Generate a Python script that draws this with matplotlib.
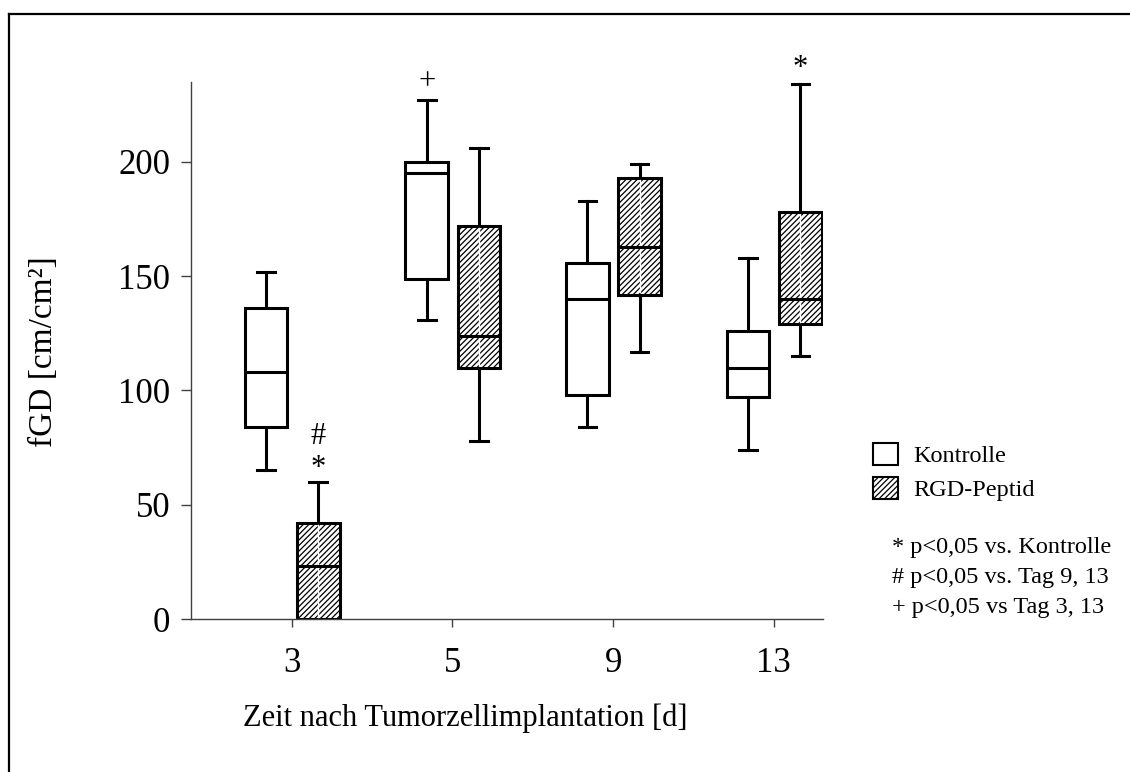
import matplotlib.pyplot as plt
from matplotlib.patches import Patch
from matplotlib.lines import Line2D

plt.rcParams['font.family'] = ['Liberation Serif', 'DejaVu Serif']
plt.rcParams['hatch.linewidth'] = 0.9

days = ['3', '5', '9', '13']
groups = ['Kontrolle', 'RGD-Peptid']

# box statistics: lower whisker, Q1, median, Q3, upper whisker
kontrolle_lo = [65, 131, 84, 74]
kontrolle_q1 = [84, 149, 98, 97]
kontrolle_med = [108, 195, 140, 110]
kontrolle_q3 = [136, 200, 156, 126]
kontrolle_hi = [152, 227, 183, 158]

rgd_lo = [0, 78, 117, 115]
rgd_q1 = [0, 110, 142, 129]
rgd_med = [23, 124, 163, 140]
rgd_q3 = [42, 172, 193, 178]
rgd_hi = [60, 206, 199, 234]

# significance marks: (day index, group, value, symbol)
marks = [(0, 1, 80, '#'), (0, 1, 66, '*'), (1, 0, 235, '+'), (3, 1, 241, '*')]
notes = ['* p<0,05 vs. Kontrolle', '# p<0,05 vs. Tag 9, 13', '+ p<0,05 vs Tag 3, 13']


def stats(lo, q1, med, q3, hi):
    return [dict(whislo=a, q1=b, med=c, q3=d, whishi=e, fliers=[])
            for a, b, c, d, e in zip(lo, q1, med, q3, hi)]


fig = plt.figure(figsize=(11.3, 7.72), dpi=100)
ax = fig.add_axes([191 / 1130, 1 - 619 / 772, 632 / 1130, 537 / 772])

base = list(range(1, len(days) + 1))
offsets = [-0.16, 0.165]
lw = 2.2
common = dict(widths=0.265, capwidths=0.11, showfliers=False, patch_artist=True,
              whiskerprops=dict(color='black', lw=lw),
              capprops=dict(color='black', lw=lw),
              medianprops=dict(color='black', lw=lw, zorder=4))

ax.bxp(stats(kontrolle_lo, kontrolle_q1, kontrolle_med, kontrolle_q3, kontrolle_hi),
       positions=[p + offsets[0] for p in base],
       boxprops=dict(facecolor='white', edgecolor='black', lw=lw), **common)
pos_rgd = [p + offsets[1] for p in base]
ax.bxp(stats(rgd_lo, rgd_q1, rgd_med, rgd_q3, rgd_hi), positions=pos_rgd,
       boxprops=dict(facecolor='white', edgecolor='black', lw=lw, hatch='//////'), **common)
# the thin white stripe in the middle of the hatched boxes
for p, a, b in zip(pos_rgd, rgd_q1, rgd_q3):
    ax.plot([p, p], [a + 1, b - 1], color='white', lw=1.0, zorder=3)

for i, g, v, s in marks:
    ax.text(base[i] + offsets[g], v, s, ha='center', va='center', fontsize=22)

ax.set_xlim(0.373, 4.306)
ax.set_ylim(0, 235)
ax.set_xticks(base)
ax.set_xticklabels(days)
ax.set_yticks([0, 50, 100, 150, 200])
ax.tick_params(axis='x', direction='out', length=6, width=1, pad=14, labelsize=25, color='#404040')
ax.tick_params(axis='y', direction='out', length=7, width=1, pad=8, labelsize=25, color='#404040')
for side in ['top', 'right']:
    ax.spines[side].set_visible(False)
for side in ['left', 'bottom']:
    ax.spines[side].set_color('#404040')
    ax.spines[side].set_linewidth(1.0)
ax.spines['left'].set_bounds(0, 235)

fig.text(44 / 1130, 1 - 352 / 772, 'fGD [cm/cm²]', rotation=90,
         ha='center', va='center', fontsize=24)
fig.text(465 / 1130, 1 - 718 / 772, 'Zeit nach Tumorzellimplantation [d]',
         ha='center', va='center', fontsize=22)

handles = [Patch(facecolor='white', edgecolor='black', lw=1.5),
           Patch(facecolor='white', edgecolor='black', lw=1.5, hatch='//////')]
fig.legend(handles, groups, loc='upper left', bbox_to_anchor=(873 / 1130, 1 - 443 / 772),
           frameon=False, fontsize=17.5, handlelength=1.03, handleheight=1.0,
           handletextpad=0.62, labelspacing=0.4, borderpad=0, borderaxespad=0)

for k, t in enumerate(notes):
    fig.text(892 / 1130, 1 - (547 + 30 * k) / 772, t, ha='left', va='center', fontsize=17.5)

# outer frame, only its top and left edge fall inside the picture
fig.add_artist(Line2D([9 / 1130, 9 / 1130], [0, 1 - 14 / 772], color='black', lw=1.6))
fig.add_artist(Line2D([9 / 1130, 1], [1 - 14 / 772, 1 - 14 / 772], color='black', lw=1.6))

fig.savefig('out.png', dpi=100)
